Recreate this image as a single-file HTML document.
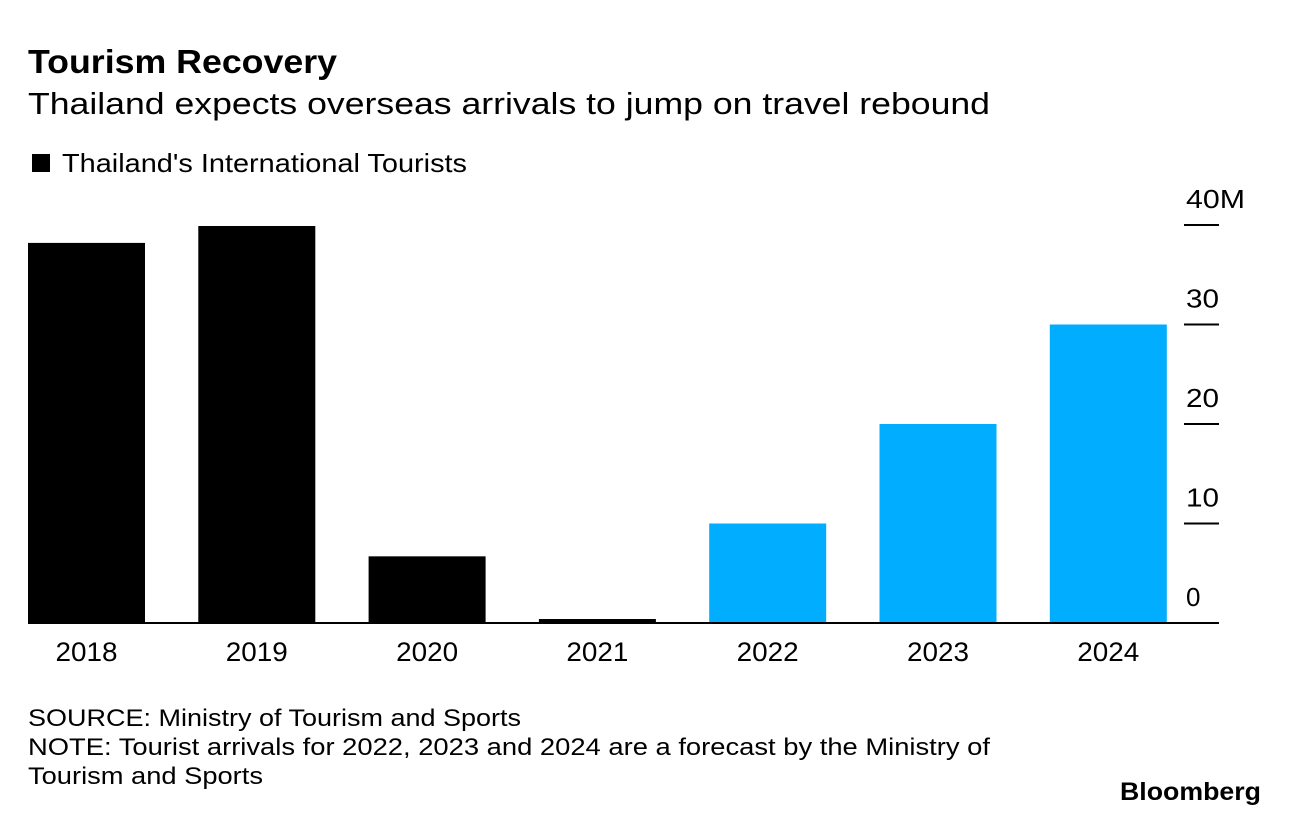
<!DOCTYPE html>
<html><head><meta charset="utf-8"><style>
body{margin:0;background:#fff;font-family:"Liberation Sans",Arial,sans-serif;}
svg text{font-family:"Liberation Sans",Arial,sans-serif;}
</style></head><body>
<svg width="1289" height="816">
<text x="28" y="73" font-size="33" font-weight="bold" textLength="309" lengthAdjust="spacingAndGlyphs">Tourism Recovery</text>
<text x="28" y="114" font-size="31" textLength="962" lengthAdjust="spacingAndGlyphs">Thailand expects overseas arrivals to jump on travel rebound</text>
<rect x="32" y="154" width="18" height="18" fill="#000"/>
<text x="62" y="172" font-size="26" textLength="405" lengthAdjust="spacingAndGlyphs">Thailand's International Tourists</text>
<g id="bars"></g><g id="axis"></g>
<text x="28" y="726" font-size="24" textLength="493" lengthAdjust="spacingAndGlyphs">SOURCE: Ministry of Tourism and Sports</text>
<text x="28" y="755" font-size="24" textLength="962" lengthAdjust="spacingAndGlyphs">NOTE: Tourist arrivals for 2022, 2023 and 2024 are a forecast by the Ministry of</text>
<text x="28" y="784" font-size="24" textLength="235" lengthAdjust="spacingAndGlyphs">Tourism and Sports</text>
<text x="1120" y="800" font-size="25" font-weight="bold" textLength="141" lengthAdjust="spacingAndGlyphs">Bloomberg</text>
</svg>
<script>
const categories=["2018","2019","2020","2021","2022","2023","2024"];
const values=[38.2,39.9,6.7,0.4,10.0,20.0,30.0];
const forecast=[false,false,false,false,true,true,true];
const ticks=[0,10,20,30,40];
const tickLabels=["0","10","20","30","40M"];
const NS="http://www.w3.org/2000/svg";
const y=v=>623-v*9.95;
const x=i=>28+i*170.3;
const bars=document.getElementById('bars'),axis=document.getElementById('axis');
categories.forEach((c,i)=>{
 const r=document.createElementNS(NS,'rect');
 r.setAttribute('x',x(i));r.setAttribute('width',117);
 r.setAttribute('y',y(values[i]));r.setAttribute('height',623-y(values[i]));
 r.setAttribute('fill',forecast[i]?'#00adff':'#000');
 
 
 bars.appendChild(r);
 const t=document.createElementNS(NS,'text');
 t.setAttribute('x',x(i)+58.5);t.setAttribute('y',661);t.setAttribute('font-size','27');t.setAttribute('text-anchor','middle');
 t.setAttribute('textLength','62');t.setAttribute('lengthAdjust','spacingAndGlyphs');
 t.textContent=c;
 
 
 axis.appendChild(t);
});
ticks.forEach((v,i)=>{
 if(v>0){const l=document.createElementNS(NS,'line');
 l.setAttribute('x1',1184);l.setAttribute('x2',1219);l.setAttribute('y1',y(v));l.setAttribute('y2',y(v));l.setAttribute('stroke','#000');l.setAttribute('stroke-width',2);
 
 
 axis.appendChild(l);}
 const t=document.createElementNS(NS,'text');
 t.setAttribute('x',1186);t.setAttribute('y',y(v)-17);t.setAttribute('font-size','26');
 const lbl=tickLabels[i];
 if(lbl.length>1){t.setAttribute('textLength',lbl.length===3?59:33);t.setAttribute('lengthAdjust','spacingAndGlyphs');}
 t.textContent=lbl;
 
 
 axis.appendChild(t);
});
const b=document.createElementNS(NS,'line');
b.setAttribute('x1',28);b.setAttribute('x2',1219);b.setAttribute('y1',623);b.setAttribute('y2',623);b.setAttribute('stroke','#000');b.setAttribute('stroke-width',2);


axis.appendChild(b);
</script>
</body></html>
